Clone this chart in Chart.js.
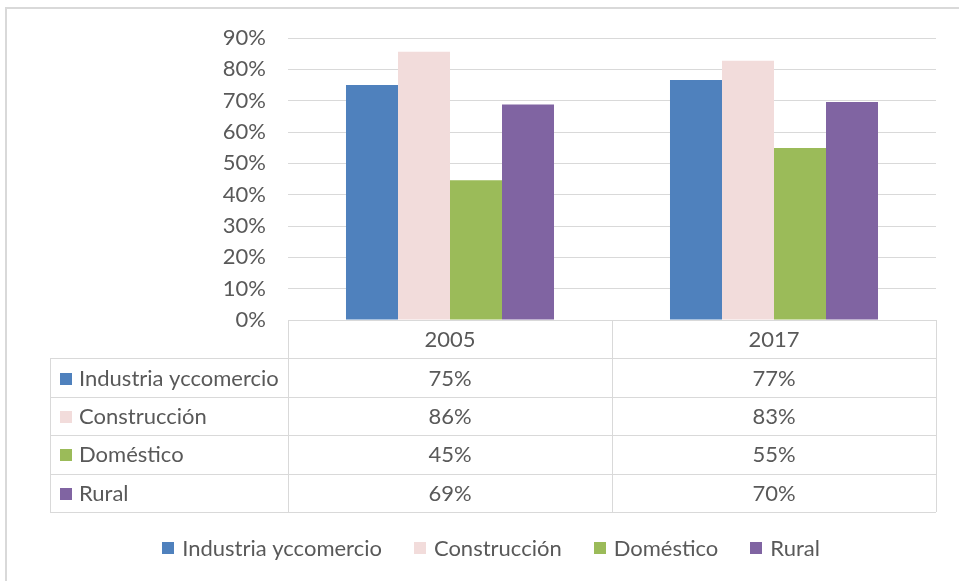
<!DOCTYPE html>
<html lang="es">
<head>
<meta charset="UTF-8">
<title>Cobertura por sector</title>
<style>
  html, body { margin: 0; padding: 0; background: #fff; }
  .wrap { position: relative; width: 959px; height: 581px; }
</style>
<script src="https://cdn.jsdelivr.net/npm/chart.js"></script>
</head>
<body>
<div class="wrap"><canvas id="grafico" width="959" height="581"></canvas></div>
<script>
// datos
const years = ['2005', '2017'];
const sectors = ['Industria yccomercio', 'Construcción', 'Doméstico', 'Rural'];
const industria = [0.75, 0.766];
const construccion = [0.856, 0.827];
const domestico = [0.446, 0.549];
const rural = [0.688, 0.696];
const yMax = 0.9;
const yStep = 0.1;

const colors = ['#4f81bd', '#f2dcdb', '#9bbb59', '#8064a2'];
const textColor = '#595959';
const lineColor = '#d9d9d9';
const FONT = 'Lato, Carlito, "Noto Sans", sans-serif';
const FONT_SIZE = 22;

const pct = v => Math.round(v * 100) + '%';

// tabla de datos + leyenda + marco exterior
const tablePlugin = {
    id: 'tablaDatos',
    beforeDraw(chart) {
        const ctx = chart.ctx;
        ctx.save();
        ctx.strokeStyle = lineColor;
        ctx.lineWidth = 2;
        ctx.strokeRect(6, 8, 990, 620);
        ctx.restore();
    },
    afterDraw(chart) {
        const ctx = chart.ctx;
        const a = chart.chartArea;
        const xs = chart.scales.x;
        const rowH = 38.4;
        const tableLeft = 50;
        const mid = (xs.getPixelForValue(0) + xs.getPixelForValue(1)) / 2;
        const top = a.bottom;
        const bottom = top + rowH * (sectors.length + 1);
        const p = v => Math.round(v) + 0.5;

        ctx.save();
        ctx.strokeStyle = lineColor;
        ctx.lineWidth = 1;
        ctx.beginPath();
        ctx.moveTo(a.left, p(top)); ctx.lineTo(a.right, p(top));
        for (let i = 1; i <= sectors.length + 1; i++) {
            const y = p(top + rowH * i);
            ctx.moveTo(tableLeft, y); ctx.lineTo(a.right, y);
        }
        ctx.moveTo(p(a.left), top); ctx.lineTo(p(a.left), bottom);
        ctx.moveTo(p(mid), top); ctx.lineTo(p(mid), bottom);
        ctx.moveTo(p(a.right), top); ctx.lineTo(p(a.right), bottom);
        ctx.moveTo(p(tableLeft), top + rowH); ctx.lineTo(p(tableLeft), bottom);
        ctx.stroke();

        ctx.font = FONT_SIZE + 'px ' + FONT;
        ctx.fillStyle = textColor;
        ctx.textBaseline = 'middle';
        ctx.textAlign = 'center';
        years.forEach((yr, j) => {
            ctx.fillText(yr, xs.getPixelForValue(j), top + rowH / 2 + 1);
        });

        chart.data.datasets.forEach((ds, i) => {
            const cy = top + rowH * (i + 1.5) + 1;
            ctx.fillStyle = ds.backgroundColor;
            ctx.fillRect(60, Math.round(cy - 6), 12, 12);
            ctx.fillStyle = textColor;
            ctx.textAlign = 'left';
            ctx.fillText(ds.label, 79, cy);
            ctx.textAlign = 'center';
            ds.data.forEach((v, j) => ctx.fillText(pct(v), xs.getPixelForValue(j), cy));
        });

        // leyenda inferior
        const box = 12, gapText = 8, gapItem = 32;
        const widths = chart.data.datasets.map(ds => box + gapText + ctx.measureText(ds.label).width);
        const total = widths.reduce((s, w) => s + w, 0) + gapItem * (widths.length - 1);
        let x = 491 - total / 2;
        const ly = 548;
        ctx.textAlign = 'left';
        chart.data.datasets.forEach((ds, i) => {
            ctx.fillStyle = ds.backgroundColor;
            ctx.fillRect(Math.round(x), ly - 6, box, box);
            ctx.fillStyle = textColor;
            ctx.fillText(ds.label, x + box + gapText, ly + 1);
            x += widths[i] + gapItem;
        });
        ctx.restore();
    }
};

const series = [industria, construccion, domestico, rural];

new Chart(document.getElementById('grafico'), {
    type: 'bar',
    data: {
        labels: years,
        datasets: sectors.map((name, i) => ({
            label: name,
            data: series[i],
            backgroundColor: colors[i],
            borderWidth: 0,
            barPercentage: 1,
            categoryPercentage: 0.642
        }))
    },
    options: {
        responsive: false,
        animation: false,
        layout: { padding: { top: 38, right: 23, bottom: 261, left: 0 } },
        scales: {
            x: { display: false },
            y: {
                min: 0,
                max: yMax,
                afterFit: s => { s.width = 288; },
                ticks: {
                    stepSize: yStep,
                    padding: 22,
                    color: textColor,
                    font: { family: FONT, size: FONT_SIZE },
                    callback: v => pct(v)
                },
                grid: { color: lineColor, lineWidth: 1, drawTicks: false },
                border: { display: false }
            }
        },
        plugins: {
            legend: { display: false },
            tooltip: { enabled: false }
        }
    },
    plugins: [tablePlugin]
});
</script>
</body>
</html>
